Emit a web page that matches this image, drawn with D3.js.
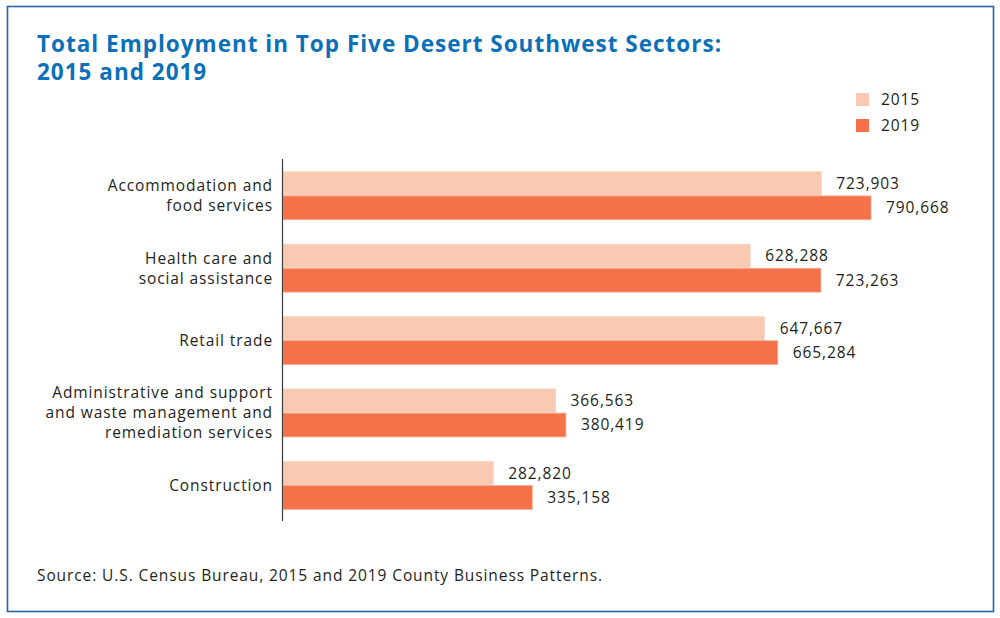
<!DOCTYPE html>
<html>
<head>
<meta charset="utf-8">
<script src="https://cdn.jsdelivr.net/npm/d3@7"></script>
<style>
  html, body { margin: 0; padding: 0; background: #fff; }
  svg text { font-family: "Open Sans", "Noto Sans", sans-serif; }
</style>
</head>
<body>
<svg id="chart" width="1000" height="618"></svg>
<script>
const titleLines = ["Total Employment in Top Five Desert Southwest Sectors:", "2015 and 2019"];
const sourceText = "Source: U.S. Census Bureau, 2015 and 2019 County Business Patterns.";
const categories = [
  ["Accommodation and", "food services"],
  ["Health care and", "social assistance"],
  ["Retail trade"],
  ["Administrative and support", "and waste management and", "remediation services"],
  ["Construction"]
];
const seriesNames = ["2015", "2019"];
const values2015 = [723903, 628288, 647667, 366563, 282820];
const values2019 = [790668, 723263, 665284, 380419, 335158];
const colors = ["#f9c9b1", "#f4714a"];

const svg = d3.select("#chart");
const LS = 0.9;

// frame
svg.append("rect").attr("x", 7.5).attr("y", 6.5).attr("width", 986).attr("height", 605)
  .attr("fill", "#fff").attr("stroke", "#2563a8").attr("stroke-width", 1.6);

// title
const title = svg.append("text").attr("x", 37).attr("y", 52)
  .attr("fill", "#0b70b8").attr("font-weight", 700).attr("font-size", 22.5)
  .attr("letter-spacing", 1);
titleLines.forEach((t, i) => title.append("tspan").attr("x", 37).attr("y", 52 + i * 28).text(t));

const x = d3.scaleLinear().domain([0, 790668]).range([283, 871]);
const keys = categories.map((c, i) => i);
const y = d3.scaleBand().domain(keys).range([159.5, 521.5]).paddingInner(0).paddingOuter(0);
const yInner = d3.scaleBand().domain(seriesNames).range([y.bandwidth() / 2 - 24, y.bandwidth() / 2 + 24]).paddingInner(0.02);

const rows = keys.map(i => ({ i, vals: [values2015[i], values2019[i]] }));

const g = svg.append("g");
const groups = g.selectAll("g.grp").data(rows).enter().append("g")
  .attr("transform", d => `translate(0,${y(d.i)})`);

groups.selectAll("rect").data(d => d.vals.map((v, k) => ({ v, k }))).enter().append("rect")
  .attr("x", x(0))
  .attr("y", d => yInner(seriesNames[d.k]))
  .attr("width", d => x(d.v) - x(0))
  .attr("height", yInner.bandwidth())
  .attr("fill", d => colors[d.k])
  .attr("stroke", d => d.k === 0 ? "#f3d9cb" : "#f7a98f")
  .attr("stroke-width", 0.8);

const fmt = d3.format(",");
groups.selectAll("text.val").data(d => d.vals.map((v, k) => ({ v, k }))).enter().append("text")
  .attr("class", "val")
  .attr("x", d => x(d.v) + 15)
  .attr("y", d => yInner(seriesNames[d.k]) + yInner.bandwidth() / 2)
  .attr("dy", "0.35em")
  .attr("font-size", 15.5).attr("letter-spacing", LS).attr("fill", "#231f20")
  .text(d => fmt(d.v));

// category labels
groups.each(function(d) {
  const lines = categories[d.i];
  const t = d3.select(this).append("text").attr("text-anchor", "end")
    .attr("font-size", 15.5).attr("letter-spacing", LS).attr("fill", "#231f20");
  const c = y.bandwidth() / 2;
  lines.forEach((ln, j) => {
    t.append("tspan").attr("x", 273)
      .attr("y", c + (j - (lines.length - 1) / 2) * 20)
      .attr("dy", "0.35em").text(ln);
  });
});

// axis line
const yAxis = d3.axisLeft(y).tickSize(0).tickFormat("");
svg.append("g").attr("transform", `translate(${x(0) - 0.5},0)`).call(yAxis)
  .call(s => s.select(".domain").attr("stroke", "#3a3a3a").attr("stroke-width", 1.2).attr("d", `M0,159V521`));

// legend
const leg = svg.append("g");
seriesNames.forEach((s, k) => {
  leg.append("rect").attr("x", 856).attr("y", 93 + k * 26).attr("width", 13).attr("height", 13).attr("fill", colors[k]);
  leg.append("text").attr("x", 881).attr("y", 99.5 + k * 26).attr("dy", "0.35em")
    .attr("font-size", 15.5).attr("letter-spacing", LS).attr("fill", "#231f20").text(s);
});

// source
svg.append("text").attr("x", 37).attr("y", 581).attr("font-size", 15.5).attr("letter-spacing", LS)
  .attr("fill", "#231f20").text(sourceText);
</script>
</body>
</html>
